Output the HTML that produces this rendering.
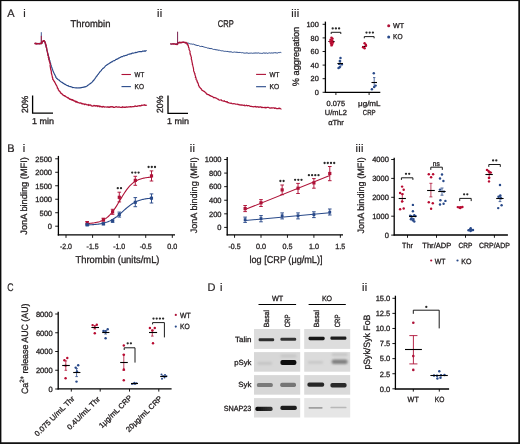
<!DOCTYPE html>
<html><head><meta charset="utf-8"><style>
html,body{margin:0;padding:0;background:#fff;}
svg{display:block;will-change:transform;}
text{font-family:"Liberation Sans", sans-serif;text-rendering:geometricPrecision;stroke:#231f20;stroke-width:0.3px;}
</style></head><body>
<svg width="520" height="444" viewBox="0 0 520 444">
<rect x="0" y="0" width="520" height="444" fill="#fff"/>
<text x="7.30" y="16.80" font-size="11" fill="#231f20" style="stroke-width:0.2px;letter-spacing:0.3px">A</text>
<text x="23.20" y="16.80" font-size="11" fill="#231f20" style="stroke-width:0.2px;letter-spacing:0.3px">i</text>
<text x="157.10" y="16.70" font-size="11" fill="#231f20" style="stroke-width:0.2px;letter-spacing:0.3px">ii</text>
<text x="291.30" y="16.70" font-size="11" fill="#231f20" style="stroke-width:0.2px;letter-spacing:0.3px">iii</text>
<text x="7.30" y="151.90" font-size="11" fill="#231f20" style="stroke-width:0.2px;letter-spacing:0.3px">B</text>
<text x="22.80" y="151.90" font-size="11" fill="#231f20" style="stroke-width:0.2px;letter-spacing:0.3px">i</text>
<text x="189.80" y="151.90" font-size="11" fill="#231f20" style="stroke-width:0.2px;letter-spacing:0.3px">ii</text>
<text x="355.50" y="151.90" font-size="11" fill="#231f20" style="stroke-width:0.2px;letter-spacing:0.3px">iii</text>
<text x="7.20" y="290.90" font-size="11" fill="#231f20" textLength="6.50" lengthAdjust="spacingAndGlyphs" style="stroke-width:0.2px;letter-spacing:0.3px">C</text>
<text x="207.60" y="291.20" font-size="11" fill="#231f20" style="stroke-width:0.2px;letter-spacing:0.3px">D</text>
<text x="219.90" y="291.20" font-size="11" fill="#231f20" style="stroke-width:0.2px;letter-spacing:0.3px">i</text>
<text x="361.90" y="291.40" font-size="11" fill="#231f20" style="stroke-width:0.2px;letter-spacing:0.3px">ii</text>
<text x="70.60" y="26.90" font-size="9.8" fill="#231f20" textLength="39.80" lengthAdjust="spacingAndGlyphs" >Thrombin</text>
<line x1="41.30" y1="43.50" x2="41.30" y2="32.20" stroke="#284989" stroke-width="0.9" />
<polyline points="34.60,43.50 34.77,43.54 35.17,43.59 35.68,43.28 35.92,43.76 36.50,43.42 37.26,43.58 37.68,43.59 38.05,43.39 38.48,43.82 38.89,43.75 39.40,43.36 39.88,43.67 40.15,43.32 40.76,43.55 41.07,43.73 41.38,43.65 41.51,43.42 41.72,43.30 42.03,42.55 41.89,42.36 42.30,42.23 42.28,41.89 42.36,41.71 42.45,41.65 42.70,41.69 42.91,41.55 43.15,41.45 43.27,40.84 43.52,41.23 43.71,40.94 43.81,40.70 44.02,40.94 43.98,40.71 44.33,41.39 44.20,41.43 44.46,41.23 44.55,41.82 44.89,41.62 44.92,41.87 45.08,42.30 45.25,42.94 45.21,43.19 45.23,42.89 45.42,43.14 45.37,43.67 45.61,43.88 45.51,44.73 45.73,45.28 46.08,45.52 46.07,46.30 46.30,47.11 46.43,47.93 46.74,48.69 46.73,49.64 46.83,50.16 47.27,51.01 47.29,51.36 47.41,52.31 47.44,52.91 47.84,53.14 48.01,53.95 48.21,54.46 48.39,55.30 48.33,55.54 48.74,56.75 48.76,57.13 49.05,57.75 49.14,58.47 49.33,59.38 49.49,60.01 49.87,60.59 50.02,61.84 50.18,62.41 50.63,63.36 50.69,64.46 51.17,65.25 51.34,66.39 51.83,67.41 52.14,68.16 52.24,69.29 52.73,69.94 52.78,70.46 53.17,71.18 53.56,72.22 53.62,72.50 54.14,73.32 54.42,73.73 54.47,74.28 54.99,74.84 55.09,75.48 55.38,76.02 55.83,76.39 55.77,77.37 56.38,77.88 56.53,78.33 57.05,78.33 57.36,79.11 57.72,79.30 58.00,79.55 58.41,79.72 58.99,80.17 59.53,80.35 60.05,81.07 60.55,81.54 61.07,81.71 61.30,82.18 61.93,82.29 62.69,82.80 63.20,83.42 63.86,83.42 64.33,84.08 64.99,84.37 65.52,84.34 66.16,85.03 66.61,85.33 67.45,85.64 67.99,85.45 68.50,86.23 68.86,86.13 69.52,86.52 70.15,86.69 70.85,86.60 71.16,86.85 71.76,86.97 72.65,87.58 72.90,87.50 73.56,87.49 74.15,87.79 74.81,87.70 75.24,87.74 75.79,87.93 76.57,87.85 76.92,87.75 77.60,88.01 78.32,87.86 78.91,87.97 79.36,87.78 79.97,87.91 80.53,87.83 81.14,87.47 81.75,87.63 82.18,87.34 82.89,87.48 83.66,87.02 84.22,87.12 84.57,86.77 85.10,86.82 85.86,86.69 86.48,86.35 87.04,86.05 87.38,85.79 87.92,85.19 88.79,84.72 89.16,84.27 90.06,83.78 90.37,83.62 91.01,83.05 91.77,82.48 92.40,81.81 92.81,81.02 93.18,80.92 93.47,80.36 93.74,80.58 93.72,79.95 94.12,79.97 94.25,79.27 94.55,79.15 95.09,78.54 95.39,77.95 95.86,77.30 96.28,76.61 97.15,75.78 97.62,74.83 98.17,74.41 98.72,73.51 99.19,72.89 99.88,71.93 100.12,71.65 100.96,70.89 101.33,70.40 101.78,69.54 102.32,69.15 102.90,68.38 103.57,68.27 103.96,67.60 104.53,67.18 105.11,66.34 105.50,65.73 106.12,65.49 106.53,65.04 107.11,64.87 107.57,64.59 108.22,63.98 108.74,63.76 109.39,63.26 109.79,63.03 110.45,62.53 110.93,62.57 111.36,61.83 111.80,61.83 112.49,61.69 113.07,61.00 113.35,60.76 113.87,60.78 114.65,60.65 114.97,60.37 115.55,59.84 116.28,59.35 116.66,59.49 117.36,58.86 118.11,58.70 118.56,58.14 119.38,57.87 119.97,57.58 120.90,57.14 121.42,56.67 121.98,56.72 122.58,56.59 123.53,55.87 124.20,55.81 124.81,55.81 125.30,55.54 126.09,55.40 126.62,55.15 127.53,54.89 128.04,54.34 128.69,54.27 129.43,54.26 130.04,53.77 130.73,53.84 131.22,53.81 132.06,53.17 132.82,53.01 133.26,53.20 134.02,52.94 134.70,52.73 135.24,52.42 135.82,52.60 136.73,52.36 137.39,52.12 137.89,52.00 138.79,51.67 139.35,51.67 140.13,51.62 140.65,51.54 141.38,51.65 141.95,51.60 142.46,51.16 143.05,50.98 143.89,51.27 144.26,50.87 144.90,51.14 145.56,51.08 145.94,50.67 146.26,50.65 146.60,50.80" fill="none" stroke="#284989" stroke-width="1.15" stroke-linejoin="round" />
<polyline points="34.60,43.50 34.78,43.57 34.81,43.29 35.37,43.10 35.65,43.89 36.02,43.44 36.12,43.64 36.49,44.00 36.85,43.40 37.27,43.58 37.45,43.80 37.44,43.85 38.09,43.59 38.30,43.56 38.41,43.63 38.63,43.61 39.26,43.56 39.52,44.03 40.00,43.29 40.24,43.72 40.12,43.47 40.48,43.19 40.89,43.92 41.00,43.81 41.41,43.07 41.67,43.39 41.85,43.37 41.87,42.90 42.01,43.27 42.13,42.65 42.16,42.52 41.88,41.94 41.94,41.91 42.05,42.01 42.42,41.89 42.36,41.85 42.39,41.57 42.75,41.41 42.55,41.75 42.96,41.18 42.89,41.23 43.14,40.87 42.94,40.78 43.48,40.66 43.43,40.66 43.41,40.60 43.63,40.58 43.54,40.53 43.72,40.89 43.77,40.51 44.08,40.93 44.31,40.69 44.25,41.10 44.14,41.73 44.34,41.08 44.56,41.28 44.73,41.60 44.55,41.49 44.96,41.86 45.08,42.20 45.23,42.22 44.94,42.36 45.31,42.85 45.13,42.53 45.37,43.48 45.38,42.79 45.13,43.05 45.27,43.20 45.27,43.98 45.79,43.82 45.90,44.34 45.88,45.04 46.04,44.58 45.79,45.48 46.23,45.43 45.98,46.56 45.98,46.63 46.21,47.40 46.64,47.46 46.66,48.50 46.82,48.89 46.98,49.26 46.83,49.69 47.14,50.45 46.98,50.70 47.33,51.62 47.44,51.96 47.43,52.29 47.67,52.72 47.65,53.93 47.88,53.89 47.76,55.11 48.10,55.69 48.34,55.85 48.47,56.65 48.29,56.86 48.27,57.41 48.87,57.64 48.77,58.09 48.62,58.99 48.82,58.84 48.89,59.77 49.24,59.60 49.17,60.89 49.29,61.00 49.52,61.72 49.76,62.31 49.87,62.45 49.83,63.12 50.34,64.05 50.07,65.85 50.33,66.92 50.44,67.75 50.69,69.34 51.09,70.47 51.36,71.98 51.33,73.02 51.59,73.80 52.02,75.39 52.23,76.10 52.32,77.27 52.67,77.74 52.73,78.84 52.86,79.56 53.51,80.05 53.76,80.77 53.83,81.07 54.56,81.55 54.56,81.80 54.75,82.36 55.44,83.35 55.71,84.10 55.86,84.59 56.10,84.69 56.60,85.70 56.87,85.90 57.04,86.41 57.43,87.45 57.32,88.03 57.53,87.84 58.10,88.57 58.28,89.42 58.32,90.04 58.75,90.26 59.12,91.02 59.67,91.07 59.67,91.51 60.19,91.74 60.41,92.76 61.08,93.34 61.61,93.63 61.67,93.36 62.03,93.99 62.55,94.41 62.87,95.04 63.25,95.03 64.01,95.68 64.14,95.51 64.89,95.63 65.02,96.43 65.75,96.43 66.01,96.78 66.91,97.33 67.54,97.91 68.05,97.52 68.11,97.77 68.72,98.31 68.95,98.73 69.38,98.73 69.84,99.36 70.28,99.03 70.40,99.31 71.03,99.65 71.47,99.87 71.39,99.35 71.94,100.02 72.07,100.13 72.35,99.71 72.40,99.56 72.91,100.45 73.32,100.17 73.44,100.70 73.74,100.52 73.73,100.56 73.79,100.38 74.25,101.22 74.36,100.82 74.46,100.98 74.92,101.11 75.26,100.97 75.19,101.43 75.57,101.87 76.18,102.09 76.49,101.43 76.95,102.07 77.41,102.00 78.08,102.74 78.33,102.71 79.07,102.76 79.97,103.34 80.46,102.84 81.24,103.01 81.58,103.77 82.18,103.43 83.14,104.20 83.43,103.86 84.04,103.77 84.67,104.69 85.24,104.16 85.96,104.16 86.81,104.90 87.65,104.93 88.31,104.50 88.69,105.48 89.25,104.98 90.13,105.09 90.82,104.99 91.31,105.91 91.91,105.94 92.58,106.10 93.50,105.86 93.86,105.39 94.84,105.56 95.18,106.20 96.20,105.56 96.89,106.05 97.23,105.72 97.89,106.57 98.48,105.87 99.06,105.93 99.81,106.72 100.30,106.14 101.40,106.94 102.06,106.35 102.37,107.06 103.08,106.91 103.64,106.36 104.33,107.08 105.24,106.97 105.77,107.00 106.47,107.03 107.42,106.76 108.04,107.44 108.95,106.77 109.80,107.37 110.17,106.85 111.00,106.65 112.23,106.96 112.98,106.68 113.33,107.35 114.56,107.45 115.31,107.03 116.14,106.63 116.80,106.95 117.34,107.10 118.19,107.03 118.95,106.88 119.69,107.15 120.77,107.46 121.46,107.38 121.92,107.51 122.70,106.74 123.65,107.27 124.42,107.17 125.28,107.42 126.32,106.93 127.38,107.22 128.68,106.83 129.48,106.82 130.39,106.55 131.93,106.76 132.63,106.73 133.91,106.73 134.98,105.94 136.11,106.44 137.04,106.32 138.11,105.78 138.78,105.81 139.72,105.60 140.74,105.96 141.56,105.20 142.19,105.31 143.20,105.01 143.66,105.08 144.47,104.73 145.25,105.46 145.82,105.22 146.47,105.25 146.70,104.90" fill="none" stroke="#ae1137" stroke-width="1.25" stroke-linejoin="round" />
<line x1="41.30" y1="43.50" x2="41.30" y2="35.80" stroke="#ae1137" stroke-width="0.9" />
<line x1="121.50" y1="74.50" x2="130.90" y2="74.50" stroke="#ae1137" stroke-width="1.1" />
<text x="134.60" y="77.30" font-size="7.2" fill="#231f20" textLength="9.60" lengthAdjust="spacingAndGlyphs" >WT</text>
<line x1="121.50" y1="86.60" x2="130.90" y2="86.60" stroke="#284989" stroke-width="1.1" />
<text x="134.60" y="89.30" font-size="7.2" fill="#231f20" textLength="9.30" lengthAdjust="spacingAndGlyphs" >KO</text>
<path d="M32.6,95.6 L32.6,113.2 L53.0,113.2" fill="none" stroke="#000" stroke-width="1.3"/>
<text x="27.60" y="113.10" font-size="9" fill="#231f20" textLength="17.40" lengthAdjust="spacingAndGlyphs" transform="rotate(-90 27.60 113.10)" >20%</text>
<text x="31.90" y="123.60" font-size="8.5" fill="#231f20" textLength="22.00" lengthAdjust="spacingAndGlyphs" >1 min</text>
<text x="217.80" y="26.80" font-size="9.8" fill="#231f20" textLength="15.90" lengthAdjust="spacingAndGlyphs" >CRP</text>
<polyline points="170.20,44.10 170.64,44.06 170.96,43.87 171.50,44.03 171.88,44.33 172.36,43.91 173.11,44.16 173.37,43.82 173.95,43.80 174.58,43.92 174.86,44.06 175.44,44.11 175.95,44.27 176.33,43.95 176.94,44.30 176.97,44.12 177.49,44.40 177.43,43.71 177.66,43.82 177.83,43.89 177.61,43.47 177.68,43.57 177.55,43.10 177.58,43.10 177.73,43.16 178.18,42.86 178.36,42.60 178.89,42.94 179.34,42.56 179.94,42.77 180.22,42.48 180.55,42.87 180.87,42.62 181.39,42.47 181.78,42.75 182.14,42.60 182.22,42.14 182.62,42.24 182.83,42.54 183.12,42.49 183.66,42.07 183.87,42.26 183.76,42.16 183.81,42.39 184.05,42.65 184.37,42.25 184.44,42.53 184.70,42.54 185.21,42.92 185.89,42.69 186.61,43.03 187.61,43.07 188.61,43.22 189.61,43.64 190.48,43.92 191.61,44.00 192.74,44.28 193.74,44.18 194.97,44.93 196.01,45.05 197.10,45.54 198.43,45.44 199.67,46.20 200.68,46.51 201.89,46.31 203.14,46.69 204.30,47.12 205.24,47.37 206.68,47.62 207.73,48.13 208.86,48.18 210.07,48.64 211.09,48.46 212.45,48.98 213.45,49.43 214.82,49.45 216.02,49.86 217.09,49.75 217.97,50.20 219.36,50.21 220.39,50.54 221.41,50.81 222.61,50.81 223.51,51.08 224.65,51.35 225.65,51.32 226.73,51.47 227.94,51.43 228.84,51.79 230.00,51.92 231.10,51.78 232.36,52.37 233.61,52.21 234.57,52.02 235.66,52.24 237.03,52.20 238.16,52.49 239.10,52.43 240.42,52.46 241.40,52.73 242.39,52.62 243.80,53.03 244.83,53.15 245.73,53.08 247.09,52.84 248.11,53.32 249.19,53.21 250.25,53.17 251.42,53.09 252.58,53.31 253.84,53.09 254.94,53.05 256.11,52.95 257.14,53.16 258.21,52.84 259.26,53.20 260.40,53.27 261.63,53.38 262.88,53.25 263.83,52.83 265.02,53.25 266.29,52.92 267.17,53.38 268.54,53.07 269.69,52.86 270.77,53.17 271.91,52.85 272.83,53.10 274.14,52.78 274.87,52.71 276.22,52.85 277.17,53.15 278.25,52.65 279.24,52.44 279.95,52.80 280.63,52.35 281.30,52.60" fill="none" stroke="#284989" stroke-width="1.0" stroke-linejoin="round" />
<polyline points="170.20,44.10 170.39,43.95 170.87,43.74 171.06,44.00 171.36,44.05 171.62,43.94 171.74,44.06 172.41,43.96 172.48,44.02 172.77,43.93 173.39,44.14 173.74,43.91 173.74,43.67 174.22,43.83 174.66,43.90 175.09,44.22 175.36,44.36 175.60,44.09 175.80,43.78 176.37,44.19 176.28,44.57 176.81,44.30 176.97,43.83 177.49,43.84 177.33,44.55 177.33,44.04 177.61,43.73 177.90,43.79 177.42,43.73 177.41,43.83 177.87,43.88 177.41,43.55 177.54,43.25 177.55,42.99 177.50,43.17 177.55,43.39 177.65,43.32 177.90,42.47 178.41,42.83 178.65,42.77 178.83,42.36 179.13,42.72 179.57,42.25 179.39,42.84 180.14,42.60 180.32,42.71 180.43,42.61 180.81,42.20 180.90,42.81 181.10,42.55 181.33,42.41 181.76,42.73 182.15,42.46 181.96,42.30 182.09,42.18 182.58,42.48 182.60,42.07 182.72,42.04 183.13,42.09 183.53,42.36 183.41,42.24 183.43,42.51 183.97,42.18 184.12,42.11 184.00,42.08 184.13,42.43 184.51,42.56 184.36,42.62 184.71,42.30 184.86,42.39 184.84,42.40 185.23,42.74 185.52,42.32 185.67,42.93 185.73,43.14 185.57,43.01 186.15,42.47 186.14,43.27 186.14,43.26 186.63,42.96 186.38,42.87 186.91,43.18 186.79,43.35 187.28,43.36 186.94,44.20 187.25,43.95 187.76,44.13 187.43,44.97 187.67,44.70 188.19,45.05 188.32,45.51 188.15,45.80 188.43,46.52 188.50,46.90 188.59,47.65 189.08,48.04 189.17,47.91 189.01,48.54 189.11,49.77 189.67,50.28 189.63,50.14 189.71,50.69 190.11,51.50 189.93,52.74 190.03,53.37 190.24,53.80 190.28,54.69 190.59,54.87 190.88,55.78 190.82,56.07 191.15,56.71 191.47,57.75 191.25,58.51 191.38,59.29 191.77,60.16 191.82,60.85 192.06,62.08 192.20,62.86 192.38,63.06 192.37,64.47 192.69,64.79 192.86,65.94 192.94,66.23 193.08,66.64 193.33,67.78 193.45,68.47 193.59,69.41 193.58,70.35 193.69,70.93 193.87,71.54 194.07,71.55 194.37,72.88 194.69,73.54 194.91,73.40 194.74,74.03 195.08,74.91 195.22,75.77 195.51,76.20 195.59,76.61 195.31,77.43 195.48,77.23 196.04,77.92 196.12,78.21 196.05,79.36 196.15,79.71 196.84,79.99 196.93,81.04 197.10,81.63 197.38,81.54 197.34,82.59 198.00,82.88 198.04,83.36 198.43,84.20 198.50,84.93 198.53,85.49 199.13,86.08 199.08,85.96 199.24,86.96 199.60,86.87 199.85,87.48 199.94,87.46 200.38,88.15 200.33,87.79 200.88,88.65 200.91,88.61 201.34,88.90 201.19,88.87 201.53,89.60 201.83,90.20 202.30,90.07 202.64,90.51 202.98,90.73 203.30,91.05 203.86,91.10 204.23,91.52 204.67,91.63 204.88,92.28 205.41,92.37 205.58,92.60 206.14,93.29 206.23,93.21 206.72,94.18 207.22,94.08 207.49,94.40 208.13,94.65 208.05,94.67 208.68,94.53 209.21,95.00 209.33,95.50 209.89,95.60 210.46,95.85 210.63,95.67 211.23,96.18 211.74,96.41 212.01,96.38 212.68,96.69 213.66,97.39 213.96,97.78 214.81,97.46 215.52,97.87 216.30,98.04 216.55,98.39 217.50,99.14 217.95,98.77 218.46,99.48 218.84,99.88 219.84,100.09 220.35,99.99 221.08,99.86 221.29,99.90 221.78,100.67 222.29,100.79 222.99,101.06 223.71,101.04 224.26,100.61 224.42,101.04 224.96,101.45 225.61,101.65 225.98,101.73 225.98,101.67 226.47,102.05 226.52,101.74 226.91,101.72 227.31,101.61 227.47,102.14 227.54,102.32 228.06,102.78 228.71,102.55 229.20,102.95 229.39,103.03 230.39,103.32 231.04,102.93 231.47,103.32 232.24,103.57 233.23,103.79 233.92,103.48 235.03,103.96 235.57,104.03 236.41,104.25 237.24,104.07 238.26,104.75 238.89,104.33 239.33,104.86 240.42,104.90 240.84,105.08 241.76,104.87 242.54,105.05 243.32,105.42 244.25,104.95 244.78,105.80 245.58,105.57 246.44,105.18 247.16,105.81 247.80,105.63 248.58,105.56 249.28,105.78 250.26,106.37 250.77,106.42 251.49,106.31 252.13,106.70 253.21,106.70 253.60,106.85 254.32,106.70 255.34,106.33 256.06,107.15 256.92,106.71 257.78,106.81 258.57,106.92 258.88,107.49 259.63,106.90 260.75,106.83 261.38,107.56 262.15,107.15 262.99,107.63 263.64,107.51 264.25,107.36 265.37,107.92 265.59,107.28 266.47,107.87 267.23,107.36 268.31,107.41 269.20,107.72 269.93,108.10 270.32,108.12 271.19,107.66 271.73,108.14 272.74,107.83 273.59,107.78 274.07,107.73 274.71,108.49 275.49,107.88 276.05,108.37 276.78,108.64 277.35,108.67 278.33,108.68 278.82,108.04 279.32,108.59 279.79,108.16 280.69,108.89 281.15,108.88 281.30,108.60" fill="none" stroke="#ae1137" stroke-width="1.2" stroke-linejoin="round" />
<line x1="177.60" y1="44.20" x2="177.60" y2="31.70" stroke="#7a2050" stroke-width="1.0" />
<line x1="256.10" y1="74.40" x2="266.00" y2="74.40" stroke="#ae1137" stroke-width="1.1" />
<text x="269.60" y="77.30" font-size="7.2" fill="#231f20" textLength="9.90" lengthAdjust="spacingAndGlyphs" >WT</text>
<line x1="256.10" y1="86.70" x2="266.00" y2="86.70" stroke="#284989" stroke-width="1.1" />
<text x="269.60" y="89.30" font-size="7.2" fill="#231f20" textLength="9.60" lengthAdjust="spacingAndGlyphs" >KO</text>
<path d="M168.0,95.6 L168.0,113.3 L188.0,113.3" fill="none" stroke="#000" stroke-width="1.3"/>
<text x="163.30" y="113.00" font-size="9" fill="#231f20" textLength="17.40" lengthAdjust="spacingAndGlyphs" transform="rotate(-90 163.30 113.00)" >20%</text>
<text x="166.90" y="123.60" font-size="8.5" fill="#231f20" textLength="22.00" lengthAdjust="spacingAndGlyphs" >1 min</text>
<line x1="325.40" y1="21.60" x2="325.40" y2="92.85" stroke="#000" stroke-width="1.3" />
<line x1="324.85" y1="92.30" x2="380.30" y2="92.30" stroke="#000" stroke-width="1.3" />
<line x1="322.60" y1="24.30" x2="325.40" y2="24.30" stroke="#000" stroke-width="0.9" />
<text x="318.80" y="27.00" font-size="7.4" fill="#231f20" text-anchor="end" >100</text>
<line x1="322.60" y1="37.90" x2="325.40" y2="37.90" stroke="#000" stroke-width="0.9" />
<text x="318.80" y="40.60" font-size="7.4" fill="#231f20" text-anchor="end" >80</text>
<line x1="322.60" y1="51.50" x2="325.40" y2="51.50" stroke="#000" stroke-width="0.9" />
<text x="318.80" y="54.20" font-size="7.4" fill="#231f20" text-anchor="end" >60</text>
<line x1="322.60" y1="65.10" x2="325.40" y2="65.10" stroke="#000" stroke-width="0.9" />
<text x="318.80" y="67.80" font-size="7.4" fill="#231f20" text-anchor="end" >40</text>
<line x1="322.60" y1="78.70" x2="325.40" y2="78.70" stroke="#000" stroke-width="0.9" />
<text x="318.80" y="81.40" font-size="7.4" fill="#231f20" text-anchor="end" >20</text>
<line x1="322.60" y1="92.30" x2="325.40" y2="92.30" stroke="#000" stroke-width="0.9" />
<text x="318.80" y="95.00" font-size="7.4" fill="#231f20" text-anchor="end" >0</text>
<line x1="335.90" y1="92.30" x2="335.90" y2="95.00" stroke="#000" stroke-width="0.9" />
<line x1="369.10" y1="92.30" x2="369.10" y2="95.00" stroke="#000" stroke-width="0.9" />
<text x="335.80" y="105.90" font-size="7.4" fill="#231f20" text-anchor="middle" textLength="18.50" lengthAdjust="spacingAndGlyphs" >0.075</text>
<text x="335.80" y="115.40" font-size="7.4" fill="#231f20" text-anchor="middle" textLength="22.10" lengthAdjust="spacingAndGlyphs" >U/mL2</text>
<text x="336.00" y="125.00" font-size="7.4" fill="#231f20" text-anchor="middle" textLength="15.70" lengthAdjust="spacingAndGlyphs" >αThr</text>
<text x="369.30" y="105.90" font-size="7.4" fill="#231f20" text-anchor="middle" textLength="22.50" lengthAdjust="spacingAndGlyphs" >μg/mL</text>
<text x="369.20" y="115.40" font-size="7.4" fill="#231f20" text-anchor="middle" textLength="12.70" lengthAdjust="spacingAndGlyphs" >CRP</text>
<text x="299.50" y="86.20" font-size="9.3" fill="#231f20" textLength="59.40" lengthAdjust="spacingAndGlyphs" transform="rotate(-90 299.50 86.20)" >% aggregation</text>
<line x1="328.40" y1="41.50" x2="334.60" y2="41.50" stroke="#000" stroke-width="1.1" />
<circle cx="331.50" cy="37.60" r="1.22" fill="#b80a30"/>
<circle cx="332.50" cy="38.60" r="1.22" fill="#b80a30"/>
<circle cx="330.60" cy="39.60" r="1.22" fill="#b80a30"/>
<circle cx="332.20" cy="40.50" r="1.22" fill="#b80a30"/>
<circle cx="330.20" cy="41.50" r="1.22" fill="#b80a30"/>
<circle cx="331.60" cy="42.00" r="1.22" fill="#b80a30"/>
<circle cx="333.00" cy="42.60" r="1.22" fill="#b80a30"/>
<circle cx="331.00" cy="43.50" r="1.22" fill="#b80a30"/>
<circle cx="332.10" cy="44.50" r="1.22" fill="#b80a30"/>
<circle cx="331.50" cy="45.40" r="1.22" fill="#b80a30"/>
<line x1="340.20" y1="61.00" x2="340.20" y2="66.70" stroke="#284989" stroke-width="0.8" />
<line x1="339.00" y1="61.00" x2="341.40" y2="61.00" stroke="#284989" stroke-width="0.8" />
<line x1="339.00" y1="66.70" x2="341.40" y2="66.70" stroke="#284989" stroke-width="0.8" />
<circle cx="340.50" cy="58.00" r="1.22" fill="#284989"/>
<circle cx="339.80" cy="61.00" r="1.22" fill="#284989"/>
<circle cx="339.10" cy="63.90" r="1.22" fill="#284989"/>
<circle cx="341.90" cy="64.40" r="1.22" fill="#284989"/>
<circle cx="339.60" cy="67.20" r="1.22" fill="#284989"/>
<circle cx="338.50" cy="68.10" r="1.22" fill="#284989"/>
<line x1="337.40" y1="63.50" x2="343.00" y2="63.50" stroke="#000" stroke-width="1.1" />
<path d="M331.20,34.00 L331.20,32.30 L340.80,32.30 L340.80,34.00" fill="none" stroke="#000" stroke-width="0.9"/>
<circle cx="332.70" cy="28.40" r="1.15" fill="#2a2a2a"/>
<circle cx="335.90" cy="28.40" r="1.15" fill="#2a2a2a"/>
<circle cx="339.10" cy="28.40" r="1.15" fill="#2a2a2a"/>
<line x1="362.10" y1="46.50" x2="366.00" y2="46.50" stroke="#000" stroke-width="1.1" />
<circle cx="364.60" cy="43.20" r="1.22" fill="#b80a30"/>
<circle cx="365.80" cy="44.80" r="1.22" fill="#b80a30"/>
<circle cx="366.00" cy="45.80" r="1.22" fill="#b80a30"/>
<circle cx="363.10" cy="47.30" r="1.22" fill="#b80a30"/>
<circle cx="364.60" cy="48.30" r="1.22" fill="#b80a30"/>
<line x1="374.20" y1="77.60" x2="374.20" y2="87.10" stroke="#284989" stroke-width="0.8" />
<line x1="373.00" y1="77.60" x2="375.40" y2="77.60" stroke="#284989" stroke-width="0.8" />
<line x1="373.00" y1="87.10" x2="375.40" y2="87.10" stroke="#284989" stroke-width="0.8" />
<circle cx="373.80" cy="73.20" r="1.22" fill="#284989"/>
<circle cx="375.60" cy="85.60" r="1.22" fill="#284989"/>
<circle cx="374.10" cy="87.10" r="1.22" fill="#284989"/>
<circle cx="371.90" cy="89.30" r="1.22" fill="#284989"/>
<line x1="371.50" y1="82.50" x2="377.00" y2="82.50" stroke="#000" stroke-width="1.1" />
<path d="M364.30,38.30 L364.30,36.60 L374.10,36.60 L374.10,38.30" fill="none" stroke="#000" stroke-width="0.9"/>
<circle cx="366.50" cy="32.60" r="1.15" fill="#2a2a2a"/>
<circle cx="369.70" cy="32.60" r="1.15" fill="#2a2a2a"/>
<circle cx="372.90" cy="32.60" r="1.15" fill="#2a2a2a"/>
<circle cx="388.70" cy="25.80" r="1.5" fill="#ae1137"/>
<text x="393.00" y="27.50" font-size="7.2" fill="#231f20" textLength="11.10" lengthAdjust="spacingAndGlyphs" >WT</text>
<circle cx="388.70" cy="37.00" r="1.5" fill="#284989"/>
<text x="393.00" y="38.90" font-size="7.2" fill="#231f20" textLength="9.50" lengthAdjust="spacingAndGlyphs" >KO</text>
<line x1="58.40" y1="155.90" x2="58.40" y2="235.55" stroke="#000" stroke-width="1.3" />
<line x1="57.75" y1="234.90" x2="175.00" y2="234.90" stroke="#000" stroke-width="1.3" />
<line x1="55.20" y1="226.20" x2="58.40" y2="226.20" stroke="#000" stroke-width="0.9" />
<text x="52.00" y="229.00" font-size="7.5" fill="#231f20" text-anchor="end" >0</text>
<line x1="55.20" y1="212.72" x2="58.40" y2="212.72" stroke="#000" stroke-width="0.9" />
<text x="52.00" y="215.52" font-size="7.5" fill="#231f20" text-anchor="end" >500</text>
<line x1="55.20" y1="199.24" x2="58.40" y2="199.24" stroke="#000" stroke-width="0.9" />
<text x="52.00" y="202.04" font-size="7.5" fill="#231f20" text-anchor="end" >1000</text>
<line x1="55.20" y1="185.76" x2="58.40" y2="185.76" stroke="#000" stroke-width="0.9" />
<text x="52.00" y="188.56" font-size="7.5" fill="#231f20" text-anchor="end" >1500</text>
<line x1="55.20" y1="172.28" x2="58.40" y2="172.28" stroke="#000" stroke-width="0.9" />
<text x="52.00" y="175.08" font-size="7.5" fill="#231f20" text-anchor="end" >2000</text>
<line x1="55.20" y1="158.80" x2="58.40" y2="158.80" stroke="#000" stroke-width="0.9" />
<text x="52.00" y="161.60" font-size="7.5" fill="#231f20" text-anchor="end" >2500</text>
<line x1="66.00" y1="235.00" x2="66.00" y2="237.90" stroke="#000" stroke-width="0.9" />
<text x="66.00" y="248.50" font-size="7.5" fill="#231f20" text-anchor="middle" textLength="12.00" lengthAdjust="spacingAndGlyphs" >-2.0</text>
<line x1="92.58" y1="235.00" x2="92.58" y2="237.90" stroke="#000" stroke-width="0.9" />
<text x="92.58" y="248.50" font-size="7.5" fill="#231f20" text-anchor="middle" textLength="12.00" lengthAdjust="spacingAndGlyphs" >-1.5</text>
<line x1="119.15" y1="235.00" x2="119.15" y2="237.90" stroke="#000" stroke-width="0.9" />
<text x="119.15" y="248.50" font-size="7.5" fill="#231f20" text-anchor="middle" textLength="12.00" lengthAdjust="spacingAndGlyphs" >-1.0</text>
<line x1="145.73" y1="235.00" x2="145.73" y2="237.90" stroke="#000" stroke-width="0.9" />
<text x="145.73" y="248.50" font-size="7.5" fill="#231f20" text-anchor="middle" textLength="12.00" lengthAdjust="spacingAndGlyphs" >-0.5</text>
<line x1="172.30" y1="235.00" x2="172.30" y2="237.90" stroke="#000" stroke-width="0.9" />
<text x="172.30" y="248.50" font-size="7.5" fill="#231f20" text-anchor="middle" textLength="10.00" lengthAdjust="spacingAndGlyphs" >0.0</text>
<text x="75.50" y="262.80" font-size="10" fill="#231f20" textLength="84.00" lengthAdjust="spacingAndGlyphs" >Thrombin (units/mL)</text>
<text x="27.20" y="234.70" font-size="9.2" fill="#231f20" textLength="77.60" lengthAdjust="spacingAndGlyphs" transform="rotate(-90 27.20 234.70)" >JonA binding (MFI)</text>
<polyline points="87.26,223.56 88.06,223.51 88.85,223.45 89.65,223.38 90.45,223.31 91.25,223.23 92.04,223.14 92.84,223.04 93.64,222.92 94.44,222.80 95.23,222.65 96.03,222.50 96.83,222.32 97.62,222.13 98.42,221.91 99.22,221.67 100.02,221.41 100.81,221.11 101.61,220.79 102.41,220.43 103.21,220.03 104.00,219.60 104.80,219.12 105.60,218.60 106.39,218.03 107.19,217.41 107.99,216.74 108.79,216.01 109.58,215.22 110.38,214.38 111.18,213.47 111.97,212.51 112.77,211.49 113.57,210.41 114.37,209.28 115.16,208.10 115.96,206.88 116.76,205.61 117.56,204.31 118.35,202.99 119.15,201.65 119.95,200.30 120.74,198.95 121.54,197.61 122.34,196.29 123.14,194.99 123.93,193.72 124.73,192.50 125.53,191.32 126.33,190.19 127.12,189.11 127.92,188.09 128.72,187.13 129.51,186.22 130.31,185.38 131.11,184.59 131.91,183.86 132.70,183.19 133.50,182.57 134.30,182.00 135.09,181.48 135.89,181.00 136.69,180.57 137.49,180.17 138.28,179.81 139.08,179.49 139.88,179.19 140.68,178.93 141.47,178.69 142.27,178.47 143.07,178.28 143.86,178.10 144.66,177.95 145.46,177.80 146.26,177.68 147.05,177.56 147.85,177.46 148.65,177.37 149.45,177.29 150.24,177.22 151.04,177.15" fill="none" stroke="#ae1137" stroke-width="1.1" stroke-linejoin="round" />
<polyline points="87.26,224.93 88.06,224.90 88.85,224.87 89.65,224.84 90.45,224.80 91.25,224.75 92.04,224.70 92.84,224.65 93.64,224.59 94.44,224.53 95.23,224.46 96.03,224.38 96.83,224.29 97.62,224.20 98.42,224.09 99.22,223.98 100.02,223.85 100.81,223.71 101.61,223.56 102.41,223.39 103.21,223.20 104.00,223.00 104.80,222.79 105.60,222.55 106.39,222.29 107.19,222.01 107.99,221.70 108.79,221.37 109.58,221.02 110.38,220.64 111.18,220.23 111.97,219.79 112.77,219.33 113.57,218.83 114.37,218.31 115.16,217.76 115.96,217.18 116.76,216.58 117.56,215.95 118.35,215.30 119.15,214.63 119.95,213.95 120.74,213.25 121.54,212.54 122.34,211.83 123.14,211.11 123.93,210.39 124.73,209.68 125.53,208.98 126.33,208.29 127.12,207.62 127.92,206.96 128.72,206.33 129.51,205.72 130.31,205.13 131.11,204.57 131.91,204.04 132.70,203.54 133.50,203.06 134.30,202.61 135.09,202.20 135.89,201.81 136.69,201.44 137.49,201.11 138.28,200.79 139.08,200.50 139.88,200.24 140.68,199.99 141.47,199.77 142.27,199.56 143.07,199.37 143.86,199.20 144.66,199.04 145.46,198.90 146.26,198.77 147.05,198.65 147.85,198.54 148.65,198.44 149.45,198.35 150.24,198.27 151.04,198.19" fill="none" stroke="#284989" stroke-width="1.1" stroke-linejoin="round" />
<line x1="87.20" y1="221.50" x2="87.20" y2="224.30" stroke="#ae1137" stroke-width="0.95" />
<line x1="85.40" y1="221.50" x2="89.00" y2="221.50" stroke="#ae1137" stroke-width="0.95" />
<line x1="85.40" y1="224.30" x2="89.00" y2="224.30" stroke="#ae1137" stroke-width="0.95" />
<rect x="85.60" y="221.30" width="3.2" height="3.2" fill="#ae1137"/>
<line x1="103.40" y1="218.20" x2="103.40" y2="221.20" stroke="#ae1137" stroke-width="0.95" />
<line x1="101.60" y1="218.20" x2="105.20" y2="218.20" stroke="#ae1137" stroke-width="0.95" />
<line x1="101.60" y1="221.20" x2="105.20" y2="221.20" stroke="#ae1137" stroke-width="0.95" />
<rect x="101.80" y="218.10" width="3.2" height="3.2" fill="#ae1137"/>
<line x1="112.60" y1="209.30" x2="112.60" y2="214.30" stroke="#ae1137" stroke-width="0.95" />
<line x1="110.80" y1="209.30" x2="114.40" y2="209.30" stroke="#ae1137" stroke-width="0.95" />
<line x1="110.80" y1="214.30" x2="114.40" y2="214.30" stroke="#ae1137" stroke-width="0.95" />
<rect x="111.00" y="210.20" width="3.2" height="3.2" fill="#ae1137"/>
<line x1="119.30" y1="192.20" x2="119.30" y2="201.90" stroke="#ae1137" stroke-width="0.95" />
<line x1="117.50" y1="192.20" x2="121.10" y2="192.20" stroke="#ae1137" stroke-width="0.95" />
<line x1="117.50" y1="201.90" x2="121.10" y2="201.90" stroke="#ae1137" stroke-width="0.95" />
<rect x="117.70" y="195.70" width="3.2" height="3.2" fill="#ae1137"/>
<line x1="135.30" y1="176.30" x2="135.30" y2="185.30" stroke="#ae1137" stroke-width="0.95" />
<line x1="133.50" y1="176.30" x2="137.10" y2="176.30" stroke="#ae1137" stroke-width="0.95" />
<line x1="133.50" y1="185.30" x2="137.10" y2="185.30" stroke="#ae1137" stroke-width="0.95" />
<rect x="133.70" y="178.80" width="3.2" height="3.2" fill="#ae1137"/>
<line x1="151.50" y1="170.90" x2="151.50" y2="181.00" stroke="#ae1137" stroke-width="0.95" />
<line x1="149.70" y1="170.90" x2="153.30" y2="170.90" stroke="#ae1137" stroke-width="0.95" />
<line x1="149.70" y1="181.00" x2="153.30" y2="181.00" stroke="#ae1137" stroke-width="0.95" />
<rect x="149.90" y="174.30" width="3.2" height="3.2" fill="#ae1137"/>
<line x1="87.20" y1="223.90" x2="87.20" y2="225.70" stroke="#284989" stroke-width="0.95" />
<line x1="85.40" y1="223.90" x2="89.00" y2="223.90" stroke="#284989" stroke-width="0.95" />
<line x1="85.40" y1="225.70" x2="89.00" y2="225.70" stroke="#284989" stroke-width="0.95" />
<rect x="85.65" y="223.25" width="3.1" height="3.1" fill="#284989"/>
<line x1="103.40" y1="222.80" x2="103.40" y2="224.80" stroke="#284989" stroke-width="0.95" />
<line x1="101.60" y1="222.80" x2="105.20" y2="222.80" stroke="#284989" stroke-width="0.95" />
<line x1="101.60" y1="224.80" x2="105.20" y2="224.80" stroke="#284989" stroke-width="0.95" />
<rect x="101.85" y="222.25" width="3.1" height="3.1" fill="#284989"/>
<line x1="112.60" y1="220.00" x2="112.60" y2="222.20" stroke="#284989" stroke-width="0.95" />
<line x1="110.80" y1="220.00" x2="114.40" y2="220.00" stroke="#284989" stroke-width="0.95" />
<line x1="110.80" y1="222.20" x2="114.40" y2="222.20" stroke="#284989" stroke-width="0.95" />
<rect x="111.05" y="219.55" width="3.1" height="3.1" fill="#284989"/>
<line x1="119.30" y1="212.10" x2="119.30" y2="217.10" stroke="#284989" stroke-width="0.95" />
<line x1="117.50" y1="212.10" x2="121.10" y2="212.10" stroke="#284989" stroke-width="0.95" />
<line x1="117.50" y1="217.10" x2="121.10" y2="217.10" stroke="#284989" stroke-width="0.95" />
<rect x="117.75" y="213.05" width="3.1" height="3.1" fill="#284989"/>
<line x1="135.30" y1="197.60" x2="135.30" y2="206.70" stroke="#284989" stroke-width="0.95" />
<line x1="133.50" y1="197.60" x2="137.10" y2="197.60" stroke="#284989" stroke-width="0.95" />
<line x1="133.50" y1="206.70" x2="137.10" y2="206.70" stroke="#284989" stroke-width="0.95" />
<rect x="133.75" y="200.75" width="3.1" height="3.1" fill="#284989"/>
<line x1="151.50" y1="193.90" x2="151.50" y2="203.00" stroke="#284989" stroke-width="0.95" />
<line x1="149.70" y1="193.90" x2="153.30" y2="193.90" stroke="#284989" stroke-width="0.95" />
<line x1="149.70" y1="203.00" x2="153.30" y2="203.00" stroke="#284989" stroke-width="0.95" />
<rect x="149.95" y="196.65" width="3.1" height="3.1" fill="#284989"/>
<circle cx="117.80" cy="188.20" r="1.15" fill="#2a2a2a"/>
<circle cx="121.00" cy="188.20" r="1.15" fill="#2a2a2a"/>
<circle cx="132.20" cy="172.60" r="1.15" fill="#2a2a2a"/>
<circle cx="135.40" cy="172.60" r="1.15" fill="#2a2a2a"/>
<circle cx="138.60" cy="172.60" r="1.15" fill="#2a2a2a"/>
<circle cx="148.60" cy="167.00" r="1.15" fill="#2a2a2a"/>
<circle cx="151.80" cy="167.00" r="1.15" fill="#2a2a2a"/>
<circle cx="155.00" cy="167.00" r="1.15" fill="#2a2a2a"/>
<line x1="227.20" y1="157.10" x2="227.20" y2="235.45" stroke="#000" stroke-width="1.3" />
<line x1="226.65" y1="234.90" x2="343.00" y2="234.90" stroke="#000" stroke-width="1.3" />
<line x1="224.20" y1="227.40" x2="227.20" y2="227.40" stroke="#000" stroke-width="0.9" />
<text x="221.50" y="230.20" font-size="7.5" fill="#231f20" text-anchor="end" >0</text>
<line x1="224.20" y1="213.82" x2="227.20" y2="213.82" stroke="#000" stroke-width="0.9" />
<text x="221.50" y="216.62" font-size="7.5" fill="#231f20" text-anchor="end" >200</text>
<line x1="224.20" y1="200.24" x2="227.20" y2="200.24" stroke="#000" stroke-width="0.9" />
<text x="221.50" y="203.04" font-size="7.5" fill="#231f20" text-anchor="end" >400</text>
<line x1="224.20" y1="186.66" x2="227.20" y2="186.66" stroke="#000" stroke-width="0.9" />
<text x="221.50" y="189.46" font-size="7.5" fill="#231f20" text-anchor="end" >600</text>
<line x1="224.20" y1="173.08" x2="227.20" y2="173.08" stroke="#000" stroke-width="0.9" />
<text x="221.50" y="175.88" font-size="7.5" fill="#231f20" text-anchor="end" >800</text>
<line x1="224.20" y1="159.50" x2="227.20" y2="159.50" stroke="#000" stroke-width="0.9" />
<text x="221.50" y="162.30" font-size="7.5" fill="#231f20" text-anchor="end" >1000</text>
<line x1="234.55" y1="234.90" x2="234.55" y2="237.80" stroke="#000" stroke-width="0.9" />
<text x="234.55" y="248.50" font-size="7.5" fill="#231f20" text-anchor="middle" textLength="12.00" lengthAdjust="spacingAndGlyphs" >-0.5</text>
<line x1="261.00" y1="234.90" x2="261.00" y2="237.80" stroke="#000" stroke-width="0.9" />
<text x="261.00" y="248.50" font-size="7.5" fill="#231f20" text-anchor="middle" textLength="10.00" lengthAdjust="spacingAndGlyphs" >0.0</text>
<line x1="287.45" y1="234.90" x2="287.45" y2="237.80" stroke="#000" stroke-width="0.9" />
<text x="287.45" y="248.50" font-size="7.5" fill="#231f20" text-anchor="middle" textLength="10.00" lengthAdjust="spacingAndGlyphs" >0.5</text>
<line x1="313.90" y1="234.90" x2="313.90" y2="237.80" stroke="#000" stroke-width="0.9" />
<text x="313.90" y="248.50" font-size="7.5" fill="#231f20" text-anchor="middle" textLength="10.00" lengthAdjust="spacingAndGlyphs" >1.0</text>
<line x1="340.35" y1="234.90" x2="340.35" y2="237.80" stroke="#000" stroke-width="0.9" />
<text x="340.35" y="248.50" font-size="7.5" fill="#231f20" text-anchor="middle" textLength="10.00" lengthAdjust="spacingAndGlyphs" >1.5</text>
<text x="249.50" y="262.80" font-size="10" fill="#231f20" textLength="73.00" lengthAdjust="spacingAndGlyphs" >log [CRP (μg/mL)]</text>
<text x="196.80" y="233.30" font-size="9.2" fill="#231f20" textLength="76.20" lengthAdjust="spacingAndGlyphs" transform="rotate(-90 196.80 233.30)" >JonA binding (MFI)</text>
<line x1="245.10" y1="209.60" x2="329.80" y2="175.40" stroke="#ae1137" stroke-width="1.1" />
<line x1="245.10" y1="220.50" x2="329.80" y2="212.70" stroke="#284989" stroke-width="1.1" />
<line x1="245.13" y1="205.50" x2="245.13" y2="211.60" stroke="#ae1137" stroke-width="0.95" />
<line x1="243.33" y1="205.50" x2="246.93" y2="205.50" stroke="#ae1137" stroke-width="0.95" />
<line x1="243.33" y1="211.60" x2="246.93" y2="211.60" stroke="#ae1137" stroke-width="0.95" />
<rect x="243.53" y="207.00" width="3.2" height="3.2" fill="#ae1137"/>
<line x1="261.00" y1="199.60" x2="261.00" y2="206.50" stroke="#ae1137" stroke-width="0.95" />
<line x1="259.20" y1="199.60" x2="262.80" y2="199.60" stroke="#ae1137" stroke-width="0.95" />
<line x1="259.20" y1="206.50" x2="262.80" y2="206.50" stroke="#ae1137" stroke-width="0.95" />
<rect x="259.40" y="201.20" width="3.2" height="3.2" fill="#ae1137"/>
<line x1="282.16" y1="185.00" x2="282.16" y2="194.70" stroke="#ae1137" stroke-width="0.95" />
<line x1="280.36" y1="185.00" x2="283.96" y2="185.00" stroke="#ae1137" stroke-width="0.95" />
<line x1="280.36" y1="194.70" x2="283.96" y2="194.70" stroke="#ae1137" stroke-width="0.95" />
<rect x="280.56" y="188.30" width="3.2" height="3.2" fill="#ae1137"/>
<line x1="298.03" y1="183.40" x2="298.03" y2="193.50" stroke="#ae1137" stroke-width="0.95" />
<line x1="296.23" y1="183.40" x2="299.83" y2="183.40" stroke="#ae1137" stroke-width="0.95" />
<line x1="296.23" y1="193.50" x2="299.83" y2="193.50" stroke="#ae1137" stroke-width="0.95" />
<rect x="296.43" y="186.60" width="3.2" height="3.2" fill="#ae1137"/>
<line x1="313.90" y1="178.60" x2="313.90" y2="188.20" stroke="#ae1137" stroke-width="0.95" />
<line x1="312.10" y1="178.60" x2="315.70" y2="178.60" stroke="#ae1137" stroke-width="0.95" />
<line x1="312.10" y1="188.20" x2="315.70" y2="188.20" stroke="#ae1137" stroke-width="0.95" />
<rect x="312.30" y="181.30" width="3.2" height="3.2" fill="#ae1137"/>
<line x1="329.77" y1="166.50" x2="329.77" y2="180.70" stroke="#ae1137" stroke-width="0.95" />
<line x1="327.97" y1="166.50" x2="331.57" y2="166.50" stroke="#ae1137" stroke-width="0.95" />
<line x1="327.97" y1="180.70" x2="331.57" y2="180.70" stroke="#ae1137" stroke-width="0.95" />
<rect x="328.17" y="171.90" width="3.2" height="3.2" fill="#ae1137"/>
<line x1="245.13" y1="217.10" x2="245.13" y2="222.40" stroke="#284989" stroke-width="0.95" />
<line x1="243.33" y1="217.10" x2="246.93" y2="217.10" stroke="#284989" stroke-width="0.95" />
<line x1="243.33" y1="222.40" x2="246.93" y2="222.40" stroke="#284989" stroke-width="0.95" />
<rect x="243.73" y="218.30" width="2.8" height="2.8" fill="#284989"/>
<line x1="261.00" y1="215.60" x2="261.00" y2="221.80" stroke="#284989" stroke-width="0.95" />
<line x1="259.20" y1="215.60" x2="262.80" y2="215.60" stroke="#284989" stroke-width="0.95" />
<line x1="259.20" y1="221.80" x2="262.80" y2="221.80" stroke="#284989" stroke-width="0.95" />
<rect x="259.60" y="217.20" width="2.8" height="2.8" fill="#284989"/>
<line x1="282.16" y1="212.90" x2="282.16" y2="218.90" stroke="#284989" stroke-width="0.95" />
<line x1="280.36" y1="212.90" x2="283.96" y2="212.90" stroke="#284989" stroke-width="0.95" />
<line x1="280.36" y1="218.90" x2="283.96" y2="218.90" stroke="#284989" stroke-width="0.95" />
<rect x="280.76" y="214.40" width="2.8" height="2.8" fill="#284989"/>
<line x1="298.03" y1="212.90" x2="298.03" y2="218.90" stroke="#284989" stroke-width="0.95" />
<line x1="296.23" y1="212.90" x2="299.83" y2="212.90" stroke="#284989" stroke-width="0.95" />
<line x1="296.23" y1="218.90" x2="299.83" y2="218.90" stroke="#284989" stroke-width="0.95" />
<rect x="296.63" y="214.40" width="2.8" height="2.8" fill="#284989"/>
<line x1="313.90" y1="211.80" x2="313.90" y2="217.60" stroke="#284989" stroke-width="0.95" />
<line x1="312.10" y1="211.80" x2="315.70" y2="211.80" stroke="#284989" stroke-width="0.95" />
<line x1="312.10" y1="217.60" x2="315.70" y2="217.60" stroke="#284989" stroke-width="0.95" />
<rect x="312.50" y="213.20" width="2.8" height="2.8" fill="#284989"/>
<line x1="329.77" y1="209.00" x2="329.77" y2="215.00" stroke="#284989" stroke-width="0.95" />
<line x1="327.97" y1="209.00" x2="331.57" y2="209.00" stroke="#284989" stroke-width="0.95" />
<line x1="327.97" y1="215.00" x2="331.57" y2="215.00" stroke="#284989" stroke-width="0.95" />
<rect x="328.37" y="210.80" width="2.8" height="2.8" fill="#284989"/>
<circle cx="280.40" cy="181.00" r="1.15" fill="#2a2a2a"/>
<circle cx="283.60" cy="181.00" r="1.15" fill="#2a2a2a"/>
<circle cx="295.10" cy="179.80" r="1.15" fill="#2a2a2a"/>
<circle cx="298.30" cy="179.80" r="1.15" fill="#2a2a2a"/>
<circle cx="301.50" cy="179.80" r="1.15" fill="#2a2a2a"/>
<circle cx="308.90" cy="175.20" r="1.15" fill="#2a2a2a"/>
<circle cx="312.10" cy="175.20" r="1.15" fill="#2a2a2a"/>
<circle cx="315.30" cy="175.20" r="1.15" fill="#2a2a2a"/>
<circle cx="318.50" cy="175.20" r="1.15" fill="#2a2a2a"/>
<circle cx="324.60" cy="163.00" r="1.15" fill="#2a2a2a"/>
<circle cx="327.80" cy="163.00" r="1.15" fill="#2a2a2a"/>
<circle cx="331.00" cy="163.00" r="1.15" fill="#2a2a2a"/>
<circle cx="334.20" cy="163.00" r="1.15" fill="#2a2a2a"/>
<line x1="394.20" y1="157.70" x2="394.20" y2="235.55" stroke="#000" stroke-width="1.3" />
<line x1="393.65" y1="235.00" x2="507.90" y2="235.00" stroke="#000" stroke-width="1.3" />
<line x1="391.20" y1="235.10" x2="394.20" y2="235.10" stroke="#000" stroke-width="0.9" />
<text x="388.90" y="237.90" font-size="7.5" fill="#231f20" text-anchor="end" >0</text>
<line x1="391.20" y1="216.20" x2="394.20" y2="216.20" stroke="#000" stroke-width="0.9" />
<text x="388.90" y="219.00" font-size="7.5" fill="#231f20" text-anchor="end" >1000</text>
<line x1="391.20" y1="197.30" x2="394.20" y2="197.30" stroke="#000" stroke-width="0.9" />
<text x="388.90" y="200.10" font-size="7.5" fill="#231f20" text-anchor="end" >2000</text>
<line x1="391.20" y1="178.40" x2="394.20" y2="178.40" stroke="#000" stroke-width="0.9" />
<text x="388.90" y="181.20" font-size="7.5" fill="#231f20" text-anchor="end" >3000</text>
<line x1="391.20" y1="159.50" x2="394.20" y2="159.50" stroke="#000" stroke-width="0.9" />
<text x="388.90" y="162.30" font-size="7.5" fill="#231f20" text-anchor="end" >4000</text>
<line x1="407.50" y1="235.00" x2="407.50" y2="237.80" stroke="#000" stroke-width="0.9" />
<line x1="436.50" y1="235.00" x2="436.50" y2="237.80" stroke="#000" stroke-width="0.9" />
<line x1="465.50" y1="235.00" x2="465.50" y2="237.80" stroke="#000" stroke-width="0.9" />
<line x1="494.40" y1="235.00" x2="494.40" y2="237.80" stroke="#000" stroke-width="0.9" />
<text x="407.40" y="248.40" font-size="7.5" fill="#231f20" text-anchor="middle" textLength="10.80" lengthAdjust="spacingAndGlyphs" >Thr</text>
<text x="436.80" y="248.40" font-size="7.5" fill="#231f20" text-anchor="middle" textLength="29.00" lengthAdjust="spacingAndGlyphs" >Thr/ADP</text>
<text x="465.50" y="248.40" font-size="7.5" fill="#231f20" text-anchor="middle" textLength="13.80" lengthAdjust="spacingAndGlyphs" >CRP</text>
<text x="494.40" y="248.40" font-size="7.5" fill="#231f20" text-anchor="middle" textLength="30.80" lengthAdjust="spacingAndGlyphs" >CRP/ADP</text>
<text x="363.80" y="233.50" font-size="9.2" fill="#231f20" textLength="76.40" lengthAdjust="spacingAndGlyphs" transform="rotate(-90 363.80 233.50)" >JonA binding (MFI)</text>
<circle cx="431.20" cy="260.50" r="1.1" fill="#ae1137"/>
<text x="434.70" y="263.50" font-size="7.5" fill="#231f20" textLength="10.70" lengthAdjust="spacingAndGlyphs" >WT</text>
<circle cx="457.50" cy="260.50" r="1.1" fill="#284989"/>
<text x="461.30" y="263.50" font-size="7.5" fill="#231f20" textLength="10.20" lengthAdjust="spacingAndGlyphs" >KO</text>
<line x1="402.30" y1="194.10" x2="402.30" y2="201.50" stroke="#ae1137" stroke-width="0.8" />
<line x1="401.00" y1="194.10" x2="403.60" y2="194.10" stroke="#ae1137" stroke-width="0.8" />
<line x1="401.00" y1="201.50" x2="403.60" y2="201.50" stroke="#ae1137" stroke-width="0.8" />
<circle cx="402.10" cy="186.60" r="1.22" fill="#b80a30"/>
<circle cx="403.70" cy="189.70" r="1.22" fill="#b80a30"/>
<circle cx="400.10" cy="193.00" r="1.22" fill="#b80a30"/>
<circle cx="402.40" cy="194.10" r="1.22" fill="#b80a30"/>
<circle cx="402.10" cy="201.50" r="1.22" fill="#b80a30"/>
<circle cx="400.10" cy="209.30" r="1.22" fill="#b80a30"/>
<circle cx="403.70" cy="208.50" r="1.22" fill="#b80a30"/>
<line x1="398.70" y1="198.50" x2="405.90" y2="198.50" stroke="#000" stroke-width="1.1" />
<circle cx="412.90" cy="204.90" r="1.22" fill="#284989"/>
<circle cx="412.90" cy="211.20" r="1.22" fill="#284989"/>
<circle cx="410.20" cy="215.70" r="1.22" fill="#284989"/>
<circle cx="414.30" cy="215.30" r="1.22" fill="#284989"/>
<circle cx="411.50" cy="216.30" r="1.22" fill="#284989"/>
<circle cx="415.60" cy="216.10" r="1.22" fill="#284989"/>
<circle cx="411.60" cy="218.40" r="1.22" fill="#284989"/>
<circle cx="413.50" cy="219.10" r="1.22" fill="#284989"/>
<circle cx="410.90" cy="219.30" r="1.22" fill="#284989"/>
<circle cx="412.90" cy="220.40" r="1.22" fill="#284989"/>
<circle cx="414.30" cy="221.50" r="1.22" fill="#284989"/>
<line x1="409.10" y1="216.50" x2="416.30" y2="216.50" stroke="#000" stroke-width="1.1" />
<path d="M401.40,179.90 L401.40,177.80 L412.90,177.80 L412.90,179.90" fill="none" stroke="#000" stroke-width="0.9"/>
<circle cx="406.00" cy="173.80" r="1.15" fill="#2a2a2a"/>
<circle cx="409.20" cy="173.80" r="1.15" fill="#2a2a2a"/>
<line x1="430.90" y1="183.30" x2="430.90" y2="196.90" stroke="#ae1137" stroke-width="0.8" />
<line x1="429.40" y1="183.30" x2="432.40" y2="183.30" stroke="#ae1137" stroke-width="0.8" />
<line x1="429.40" y1="196.90" x2="432.40" y2="196.90" stroke="#ae1137" stroke-width="0.8" />
<circle cx="428.80" cy="174.20" r="1.22" fill="#b80a30"/>
<circle cx="433.10" cy="174.20" r="1.22" fill="#b80a30"/>
<circle cx="431.10" cy="177.30" r="1.22" fill="#b80a30"/>
<circle cx="428.80" cy="202.30" r="1.22" fill="#b80a30"/>
<circle cx="432.80" cy="203.30" r="1.22" fill="#b80a30"/>
<circle cx="431.10" cy="208.70" r="1.22" fill="#b80a30"/>
<line x1="427.10" y1="190.50" x2="434.80" y2="190.50" stroke="#000" stroke-width="1.1" />
<line x1="442.00" y1="188.00" x2="442.00" y2="195.20" stroke="#284989" stroke-width="0.8" />
<line x1="440.50" y1="188.00" x2="443.50" y2="188.00" stroke="#284989" stroke-width="0.8" />
<line x1="440.50" y1="195.20" x2="443.50" y2="195.20" stroke="#284989" stroke-width="0.8" />
<circle cx="442.00" cy="174.50" r="1.22" fill="#284989"/>
<circle cx="440.00" cy="178.50" r="1.22" fill="#284989"/>
<circle cx="443.40" cy="181.00" r="1.22" fill="#284989"/>
<circle cx="440.00" cy="189.60" r="1.22" fill="#284989"/>
<circle cx="444.00" cy="191.60" r="1.22" fill="#284989"/>
<circle cx="440.40" cy="200.20" r="1.22" fill="#284989"/>
<circle cx="445.40" cy="200.90" r="1.22" fill="#284989"/>
<circle cx="443.60" cy="203.80" r="1.22" fill="#284989"/>
<circle cx="440.00" cy="204.50" r="1.22" fill="#284989"/>
<line x1="438.20" y1="191.50" x2="445.60" y2="191.50" stroke="#000" stroke-width="1.1" />
<path d="M430.80,169.90 L430.80,167.20 L442.30,167.20 L442.30,169.90" fill="none" stroke="#000" stroke-width="0.9"/>
<text x="432.80" y="165.60" font-size="7.0" fill="#231f20" textLength="7.00" lengthAdjust="spacingAndGlyphs" >ns</text>
<circle cx="457.80" cy="207.10" r="1.22" fill="#b80a30"/>
<circle cx="459.30" cy="207.50" r="1.22" fill="#b80a30"/>
<circle cx="460.80" cy="207.30" r="1.22" fill="#b80a30"/>
<circle cx="462.40" cy="207.00" r="1.22" fill="#b80a30"/>
<circle cx="460.20" cy="208.00" r="1.22" fill="#b80a30"/>
<circle cx="468.50" cy="230.20" r="1.22" fill="#284989"/>
<circle cx="470.00" cy="229.50" r="1.22" fill="#284989"/>
<circle cx="471.50" cy="230.30" r="1.22" fill="#284989"/>
<circle cx="473.00" cy="230.00" r="1.22" fill="#284989"/>
<circle cx="470.70" cy="228.30" r="1.22" fill="#284989"/>
<circle cx="470.50" cy="231.00" r="1.22" fill="#284989"/>
<path d="M459.70,201.10 L459.70,198.40 L471.20,198.40 L471.20,201.10" fill="none" stroke="#000" stroke-width="0.9"/>
<circle cx="464.10" cy="194.30" r="1.15" fill="#2a2a2a"/>
<circle cx="467.30" cy="194.30" r="1.15" fill="#2a2a2a"/>
<line x1="489.20" y1="172.30" x2="489.20" y2="177.70" stroke="#ae1137" stroke-width="0.8" />
<line x1="487.90" y1="172.30" x2="490.50" y2="172.30" stroke="#ae1137" stroke-width="0.8" />
<line x1="487.90" y1="177.70" x2="490.50" y2="177.70" stroke="#ae1137" stroke-width="0.8" />
<circle cx="487.00" cy="169.90" r="1.22" fill="#b80a30"/>
<circle cx="488.50" cy="171.00" r="1.22" fill="#b80a30"/>
<circle cx="489.70" cy="172.30" r="1.22" fill="#b80a30"/>
<circle cx="490.80" cy="172.60" r="1.22" fill="#b80a30"/>
<circle cx="489.00" cy="178.00" r="1.22" fill="#b80a30"/>
<circle cx="489.00" cy="181.40" r="1.22" fill="#b80a30"/>
<line x1="485.40" y1="174.50" x2="492.80" y2="174.50" stroke="#000" stroke-width="1.1" />
<line x1="500.00" y1="196.20" x2="500.00" y2="201.60" stroke="#284989" stroke-width="0.8" />
<line x1="498.60" y1="196.20" x2="501.40" y2="196.20" stroke="#284989" stroke-width="0.8" />
<line x1="498.60" y1="201.60" x2="501.40" y2="201.60" stroke="#284989" stroke-width="0.8" />
<circle cx="500.00" cy="185.00" r="1.22" fill="#284989"/>
<circle cx="500.30" cy="195.50" r="1.22" fill="#284989"/>
<circle cx="498.50" cy="196.80" r="1.22" fill="#284989"/>
<circle cx="501.00" cy="198.20" r="1.22" fill="#284989"/>
<circle cx="501.60" cy="205.30" r="1.22" fill="#284989"/>
<circle cx="498.20" cy="208.10" r="1.22" fill="#284989"/>
<line x1="496.20" y1="198.50" x2="503.60" y2="198.50" stroke="#000" stroke-width="1.1" />
<path d="M488.80,166.90 L488.80,164.50 L500.30,164.50 L500.30,166.90" fill="none" stroke="#000" stroke-width="0.9"/>
<circle cx="493.10" cy="160.40" r="1.15" fill="#2a2a2a"/>
<circle cx="496.30" cy="160.40" r="1.15" fill="#2a2a2a"/>
<line x1="58.20" y1="311.70" x2="58.20" y2="389.50" stroke="#000" stroke-width="1.3" />
<line x1="57.65" y1="388.95" x2="171.60" y2="388.95" stroke="#000" stroke-width="1.3" />
<line x1="55.20" y1="389.00" x2="58.20" y2="389.00" stroke="#000" stroke-width="0.9" />
<text x="52.60" y="391.80" font-size="7.5" fill="#231f20" text-anchor="end" >0</text>
<line x1="55.20" y1="370.25" x2="58.20" y2="370.25" stroke="#000" stroke-width="0.9" />
<text x="52.60" y="373.05" font-size="7.5" fill="#231f20" text-anchor="end" >2000</text>
<line x1="55.20" y1="351.50" x2="58.20" y2="351.50" stroke="#000" stroke-width="0.9" />
<text x="52.60" y="354.30" font-size="7.5" fill="#231f20" text-anchor="end" >4000</text>
<line x1="55.20" y1="332.75" x2="58.20" y2="332.75" stroke="#000" stroke-width="0.9" />
<text x="52.60" y="335.55" font-size="7.5" fill="#231f20" text-anchor="end" >6000</text>
<line x1="55.20" y1="314.00" x2="58.20" y2="314.00" stroke="#000" stroke-width="0.9" />
<text x="52.60" y="316.80" font-size="7.5" fill="#231f20" text-anchor="end" >8000</text>
<line x1="71.30" y1="388.95" x2="71.30" y2="391.60" stroke="#000" stroke-width="0.9" />
<line x1="100.20" y1="388.95" x2="100.20" y2="391.60" stroke="#000" stroke-width="0.9" />
<line x1="129.50" y1="388.95" x2="129.50" y2="391.60" stroke="#000" stroke-width="0.9" />
<line x1="158.80" y1="388.95" x2="158.80" y2="391.60" stroke="#000" stroke-width="0.9" />
<text x="75.10" y="399.20" font-size="7.5" fill="#231f20" text-anchor="end" textLength="53" lengthAdjust="spacingAndGlyphs" transform="rotate(-45 75.10 399.20)">0.075 U/mL Thr</text>
<text x="100.70" y="399.60" font-size="7.5" fill="#231f20" text-anchor="end" textLength="43.5" lengthAdjust="spacingAndGlyphs" transform="rotate(-45 100.70 399.60)">0.4U/mL Thr</text>
<text x="132.50" y="398.20" font-size="7.5" fill="#231f20" text-anchor="end" textLength="43" lengthAdjust="spacingAndGlyphs" transform="rotate(-45 132.50 398.20)">1μg/mL CRP</text>
<text x="162.60" y="398.90" font-size="7.5" fill="#231f20" text-anchor="end" textLength="47.5" lengthAdjust="spacingAndGlyphs" transform="rotate(-45 162.60 398.90)">20μg/mL CRP</text>
<text x="27.8" y="394.1" font-size="9.2" fill="#231f20" transform="rotate(-90 27.8 394.1)" textLength="90.6" lengthAdjust="spacingAndGlyphs">Ca<tspan font-size="6.2" dy="-3.4">2+</tspan><tspan dy="3.4"> release AUC (AU)</tspan></text>
<line x1="65.80" y1="360.90" x2="65.80" y2="370.30" stroke="#ae1137" stroke-width="0.8" />
<line x1="64.50" y1="360.90" x2="67.10" y2="360.90" stroke="#ae1137" stroke-width="0.8" />
<line x1="64.50" y1="370.30" x2="67.10" y2="370.30" stroke="#ae1137" stroke-width="0.8" />
<circle cx="67.30" cy="358.00" r="1.22" fill="#b80a30"/>
<circle cx="64.40" cy="360.20" r="1.22" fill="#b80a30"/>
<circle cx="65.60" cy="365.60" r="1.22" fill="#b80a30"/>
<circle cx="65.60" cy="378.20" r="1.22" fill="#b80a30"/>
<line x1="62.20" y1="365.50" x2="69.80" y2="365.50" stroke="#000" stroke-width="1.1" />
<line x1="76.60" y1="368.60" x2="76.60" y2="376.60" stroke="#284989" stroke-width="0.8" />
<line x1="75.30" y1="368.60" x2="77.90" y2="368.60" stroke="#284989" stroke-width="0.8" />
<line x1="75.30" y1="376.60" x2="77.90" y2="376.60" stroke="#284989" stroke-width="0.8" />
<circle cx="78.20" cy="365.30" r="1.22" fill="#284989"/>
<circle cx="75.70" cy="367.60" r="1.22" fill="#284989"/>
<circle cx="77.00" cy="371.50" r="1.22" fill="#284989"/>
<circle cx="76.50" cy="381.60" r="1.22" fill="#284989"/>
<line x1="73.20" y1="372.50" x2="80.40" y2="372.50" stroke="#000" stroke-width="1.1" />
<line x1="94.80" y1="325.50" x2="94.80" y2="329.00" stroke="#ae1137" stroke-width="0.8" />
<line x1="93.50" y1="325.50" x2="96.10" y2="325.50" stroke="#ae1137" stroke-width="0.8" />
<line x1="93.50" y1="329.00" x2="96.10" y2="329.00" stroke="#ae1137" stroke-width="0.8" />
<circle cx="92.60" cy="325.10" r="1.22" fill="#b80a30"/>
<circle cx="96.80" cy="324.80" r="1.22" fill="#b80a30"/>
<circle cx="94.80" cy="327.50" r="1.22" fill="#b80a30"/>
<circle cx="94.80" cy="333.20" r="1.22" fill="#b80a30"/>
<line x1="91.40" y1="327.50" x2="99.00" y2="327.50" stroke="#000" stroke-width="1.1" />
<line x1="105.60" y1="330.50" x2="105.60" y2="334.00" stroke="#284989" stroke-width="0.8" />
<line x1="104.30" y1="330.50" x2="106.90" y2="330.50" stroke="#284989" stroke-width="0.8" />
<line x1="104.30" y1="334.00" x2="106.90" y2="334.00" stroke="#284989" stroke-width="0.8" />
<circle cx="107.70" cy="329.30" r="1.22" fill="#284989"/>
<circle cx="103.50" cy="331.00" r="1.22" fill="#284989"/>
<circle cx="105.60" cy="331.80" r="1.22" fill="#284989"/>
<circle cx="105.60" cy="338.30" r="1.22" fill="#284989"/>
<line x1="102.20" y1="332.50" x2="109.40" y2="332.50" stroke="#000" stroke-width="1.1" />
<line x1="123.80" y1="354.70" x2="123.80" y2="370.40" stroke="#ae1137" stroke-width="0.8" />
<line x1="122.50" y1="354.70" x2="125.10" y2="354.70" stroke="#ae1137" stroke-width="0.8" />
<line x1="122.50" y1="370.40" x2="125.10" y2="370.40" stroke="#ae1137" stroke-width="0.8" />
<circle cx="123.80" cy="345.50" r="1.22" fill="#b80a30"/>
<circle cx="123.80" cy="354.70" r="1.22" fill="#b80a30"/>
<circle cx="123.80" cy="369.50" r="1.22" fill="#b80a30"/>
<circle cx="123.80" cy="380.30" r="1.22" fill="#b80a30"/>
<line x1="120.20" y1="362.50" x2="127.80" y2="362.50" stroke="#000" stroke-width="1.1" />
<circle cx="132.00" cy="384.00" r="1.0" fill="#284989"/>
<circle cx="133.50" cy="383.60" r="1.0" fill="#284989"/>
<circle cx="135.00" cy="383.90" r="1.0" fill="#284989"/>
<circle cx="136.50" cy="383.30" r="1.0" fill="#284989"/>
<circle cx="134.50" cy="382.80" r="1.0" fill="#284989"/>
<line x1="131.00" y1="383.50" x2="138.00" y2="383.50" stroke="#000" stroke-width="1.1" />
<path d="M124.20,350.00 L124.20,347.80 L135.00,347.80 L135.00,362.60" fill="none" stroke="#000" stroke-width="0.9"/>
<circle cx="127.70" cy="343.30" r="1.15" fill="#2a2a2a"/>
<circle cx="130.90" cy="343.30" r="1.15" fill="#2a2a2a"/>
<line x1="152.30" y1="330.20" x2="152.30" y2="336.10" stroke="#ae1137" stroke-width="0.8" />
<line x1="151.00" y1="330.20" x2="153.60" y2="330.20" stroke="#ae1137" stroke-width="0.8" />
<line x1="151.00" y1="336.10" x2="153.60" y2="336.10" stroke="#ae1137" stroke-width="0.8" />
<circle cx="149.90" cy="328.00" r="1.22" fill="#b80a30"/>
<circle cx="154.80" cy="328.00" r="1.22" fill="#b80a30"/>
<circle cx="152.40" cy="330.50" r="1.22" fill="#b80a30"/>
<circle cx="153.00" cy="343.30" r="1.22" fill="#b80a30"/>
<line x1="149.00" y1="332.50" x2="157.10" y2="332.50" stroke="#000" stroke-width="1.1" />
<circle cx="161.50" cy="374.60" r="1.0" fill="#284989"/>
<circle cx="163.00" cy="376.00" r="1.0" fill="#284989"/>
<circle cx="164.50" cy="377.50" r="1.0" fill="#284989"/>
<circle cx="166.50" cy="376.20" r="1.0" fill="#284989"/>
<circle cx="162.00" cy="378.80" r="1.0" fill="#284989"/>
<circle cx="165.00" cy="375.00" r="1.0" fill="#284989"/>
<line x1="160.20" y1="376.50" x2="167.00" y2="376.50" stroke="#000" stroke-width="1.1" />
<path d="M152.60,324.40 L152.60,322.60 L164.40,322.60 L164.40,337.40" fill="none" stroke="#000" stroke-width="0.9"/>
<circle cx="153.50" cy="318.60" r="1.15" fill="#2a2a2a"/>
<circle cx="156.70" cy="318.60" r="1.15" fill="#2a2a2a"/>
<circle cx="159.90" cy="318.60" r="1.15" fill="#2a2a2a"/>
<circle cx="163.10" cy="318.60" r="1.15" fill="#2a2a2a"/>
<circle cx="175.80" cy="314.90" r="1.1" fill="#ae1137"/>
<text x="180.00" y="317.70" font-size="7.5" fill="#231f20" textLength="10.80" lengthAdjust="spacingAndGlyphs" >WT</text>
<circle cx="175.80" cy="326.60" r="1.1" fill="#284989"/>
<text x="180.00" y="329.30" font-size="7.5" fill="#231f20" textLength="9.80" lengthAdjust="spacingAndGlyphs" >KO</text>
<text x="272.00" y="301.20" font-size="7.5" fill="#231f20" textLength="11.30" lengthAdjust="spacingAndGlyphs" >WT</text>
<text x="321.90" y="301.20" font-size="7.5" fill="#231f20" textLength="10.20" lengthAdjust="spacingAndGlyphs" >KO</text>
<line x1="258.50" y1="304.50" x2="296.10" y2="304.50" stroke="#000" stroke-width="1.0" />
<line x1="308.60" y1="304.50" x2="345.80" y2="304.50" stroke="#000" stroke-width="1.0" />
<text x="269.30" y="327.30" font-size="7.5" fill="#231f20" textLength="17.30" lengthAdjust="spacingAndGlyphs" transform="rotate(-90 269.30 327.30)" >Basal</text>
<text x="289.90" y="327.30" font-size="7.5" fill="#231f20" textLength="12.70" lengthAdjust="spacingAndGlyphs" transform="rotate(-90 289.90 327.30)" >CRP</text>
<text x="319.20" y="327.30" font-size="7.5" fill="#231f20" textLength="17.30" lengthAdjust="spacingAndGlyphs" transform="rotate(-90 319.20 327.30)" >Basal</text>
<text x="339.80" y="327.30" font-size="7.5" fill="#231f20" textLength="12.70" lengthAdjust="spacingAndGlyphs" transform="rotate(-90 339.80 327.30)" >CRP</text>
<text x="251.40" y="341.80" font-size="7.5" fill="#231f20" text-anchor="end" textLength="16.30" lengthAdjust="spacingAndGlyphs" >Talin</text>
<text x="251.40" y="364.50" font-size="7.5" fill="#231f20" text-anchor="end" textLength="17.10" lengthAdjust="spacingAndGlyphs" >pSyk</text>
<text x="251.40" y="387.40" font-size="7.5" fill="#231f20" text-anchor="end" textLength="13.10" lengthAdjust="spacingAndGlyphs" >Syk</text>
<text x="251.40" y="410.80" font-size="7.5" fill="#231f20" text-anchor="end" textLength="27.70" lengthAdjust="spacingAndGlyphs" >SNAP23</text>
<defs>
<filter id="bl" x="-20%" y="-100%" width="140%" height="300%"><feGaussianBlur stdDeviation="0.65"/></filter>
<filter id="bl2" x="-20%" y="-100%" width="140%" height="300%"><feGaussianBlur stdDeviation="0.9"/></filter>
<linearGradient id="gS" x1="0" x2="1" y1="0" y2="0"><stop offset="0" stop-color="#0a0a0a"/><stop offset="0.35" stop-color="#1c1c1c"/><stop offset="1" stop-color="#363636"/></linearGradient>
</defs>
<rect x="254.0" y="329.0" width="46.2" height="19.9" fill="#dcdcdc"/>
<rect x="304.2" y="329.0" width="46.0" height="19.9" fill="#dddddd"/>
<rect x="254.0" y="352.1" width="46.2" height="19.6" fill="#d7d7d7"/>
<rect x="304.2" y="352.1" width="46.0" height="19.6" fill="#dbdbdb"/>
<rect x="254.0" y="375.1" width="46.2" height="19.6" fill="#d7d7d7"/>
<rect x="304.2" y="375.1" width="46.0" height="19.6" fill="#dadada"/>
<rect x="254.0" y="398.1" width="46.2" height="19.4" fill="#dcdcdc"/>
<rect x="304.2" y="398.1" width="46.0" height="19.4" fill="#e6e6e6"/>
<rect x="258.60" y="338.15" width="15.60" height="3.10" rx="1.24" fill="#2e2e2e" filter="url(#bl)"/>
<rect x="280.40" y="337.65" width="15.80" height="3.10" rx="1.24" fill="#323232" filter="url(#bl)"/>
<rect x="308.50" y="336.70" width="16.20" height="3.60" rx="1.44" fill="#161616" filter="url(#bl)"/>
<rect x="330.40" y="336.50" width="16.00" height="3.20" rx="1.28" fill="#1e1e1e" filter="url(#bl)"/>
<rect x="257.40" y="362.20" width="14.60" height="2.20" rx="0.88" fill="#c0c0c0" filter="url(#bl2)"/>
<rect x="280.40" y="360.10" width="16.00" height="5.00" rx="2.00" fill="#0c0c0c" filter="url(#bl)"/>
<rect x="280.40" y="354.50" width="16.00" height="3.00" rx="1.20" fill="#c6c6c6" filter="url(#bl2)"/>
<rect x="308.00" y="361.20" width="15.00" height="2.20" rx="0.88" fill="#c4c4c4" filter="url(#bl2)"/>
<rect x="331.80" y="359.60" width="15.70" height="4.40" rx="1.76" fill="#808080" filter="url(#bl2)"/>
<rect x="331.80" y="353.60" width="15.70" height="2.20" rx="0.88" fill="#c0c0c0" filter="url(#bl2)"/>
<rect x="256.90" y="382.90" width="15.90" height="4.20" rx="1.68" fill="#7a7a7a" filter="url(#bl)"/>
<rect x="280.20" y="382.70" width="15.80" height="4.20" rx="1.68" fill="#747474" filter="url(#bl)"/>
<rect x="307.40" y="382.40" width="16.80" height="4.40" rx="1.76" fill="#282828" filter="url(#bl)"/>
<rect x="330.40" y="383.10" width="16.20" height="4.40" rx="1.76" fill="#2c2c2c" filter="url(#bl)"/>
<rect x="255.40" y="406.80" width="17.20" height="4.20" rx="1.68" fill="url(#gS)" filter="url(#bl)"/>
<rect x="280.40" y="405.80" width="16.40" height="4.20" rx="1.68" fill="#1e1e1e" filter="url(#bl)"/>
<rect x="308.50" y="406.95" width="14.10" height="1.70" rx="0.68" fill="#a0a0a0" filter="url(#bl)"/>
<rect x="330.40" y="406.85" width="16.10" height="1.50" rx="0.60" fill="#b8b8b8" filter="url(#bl)"/>
<line x1="395.40" y1="295.70" x2="395.40" y2="389.50" stroke="#000" stroke-width="1.3" />
<line x1="394.85" y1="389.00" x2="449.10" y2="389.00" stroke="#000" stroke-width="1.3" />
<line x1="392.40" y1="388.80" x2="395.40" y2="388.80" stroke="#000" stroke-width="0.9" />
<text x="390.30" y="391.60" font-size="7.5" fill="#231f20" text-anchor="end" >0.0</text>
<line x1="392.40" y1="373.72" x2="395.40" y2="373.72" stroke="#000" stroke-width="0.9" />
<text x="390.30" y="376.52" font-size="7.5" fill="#231f20" text-anchor="end" >2.5</text>
<line x1="392.40" y1="358.63" x2="395.40" y2="358.63" stroke="#000" stroke-width="0.9" />
<text x="390.30" y="361.44" font-size="7.5" fill="#231f20" text-anchor="end" >5.0</text>
<line x1="392.40" y1="343.55" x2="395.40" y2="343.55" stroke="#000" stroke-width="0.9" />
<text x="390.30" y="346.35" font-size="7.5" fill="#231f20" text-anchor="end" >7.5</text>
<line x1="392.40" y1="328.47" x2="395.40" y2="328.47" stroke="#000" stroke-width="0.9" />
<text x="390.30" y="331.27" font-size="7.5" fill="#231f20" text-anchor="end" >10.0</text>
<line x1="392.40" y1="313.39" x2="395.40" y2="313.39" stroke="#000" stroke-width="0.9" />
<text x="390.30" y="316.19" font-size="7.5" fill="#231f20" text-anchor="end" >12.5</text>
<line x1="392.40" y1="298.31" x2="395.40" y2="298.31" stroke="#000" stroke-width="0.9" />
<text x="390.30" y="301.11" font-size="7.5" fill="#231f20" text-anchor="end" >15.0</text>
<line x1="413.30" y1="389.00" x2="413.30" y2="391.60" stroke="#000" stroke-width="0.9" />
<line x1="439.30" y1="389.00" x2="439.30" y2="391.60" stroke="#000" stroke-width="0.9" />
<text x="413.20" y="402.10" font-size="7.5" fill="#231f20" text-anchor="middle" textLength="11.20" lengthAdjust="spacingAndGlyphs" >WT</text>
<text x="439.60" y="402.10" font-size="7.5" fill="#231f20" text-anchor="middle" textLength="9.60" lengthAdjust="spacingAndGlyphs" >KO</text>
<text x="370.10" y="369.60" font-size="9.2" fill="#231f20" textLength="55.00" lengthAdjust="spacingAndGlyphs" transform="rotate(-90 370.10 369.60)" >pSyk/Syk FoB</text>
<line x1="413.40" y1="335.60" x2="413.40" y2="363.90" stroke="#ae1137" stroke-width="0.9" />
<line x1="409.35" y1="335.60" x2="417.45" y2="335.60" stroke="#ae1137" stroke-width="0.9" />
<line x1="409.35" y1="363.90" x2="417.45" y2="363.90" stroke="#ae1137" stroke-width="0.9" />
<circle cx="413.30" cy="322.70" r="1.3" fill="#ae1137"/>
<circle cx="413.30" cy="356.10" r="1.3" fill="#ae1137"/>
<circle cx="413.30" cy="369.90" r="1.3" fill="#ae1137"/>
<line x1="405.00" y1="349.50" x2="421.90" y2="349.50" stroke="#000" stroke-width="1.1" />
<circle cx="439.30" cy="371.20" r="1.22" fill="#284989"/>
<circle cx="434.00" cy="375.50" r="1.22" fill="#284989"/>
<circle cx="437.00" cy="375.80" r="1.22" fill="#284989"/>
<circle cx="441.00" cy="375.20" r="1.22" fill="#284989"/>
<circle cx="444.50" cy="375.00" r="1.22" fill="#284989"/>
<circle cx="437.40" cy="378.50" r="1.22" fill="#284989"/>
<circle cx="440.50" cy="377.80" r="1.22" fill="#284989"/>
<line x1="430.40" y1="375.50" x2="447.80" y2="375.50" stroke="#000" stroke-width="1.1" />
<path d="M413.30,313.80 L413.30,310.20 L439.20,310.20 L439.20,328.40" fill="none" stroke="#000" stroke-width="0.9"/>
<circle cx="426.30" cy="306.90" r="1.15" fill="#2a2a2a"/>
<rect x="0" y="0" width="520" height="1.1" fill="#0a0a0a"/>
<rect x="0" y="0" width="1.4" height="444" fill="#0a0a0a"/>
<rect x="518.3" y="0" width="1.7" height="444" fill="#121212"/>
<rect x="0" y="442.25" width="520" height="1.75" fill="#121212"/>
</svg>
</body></html>
